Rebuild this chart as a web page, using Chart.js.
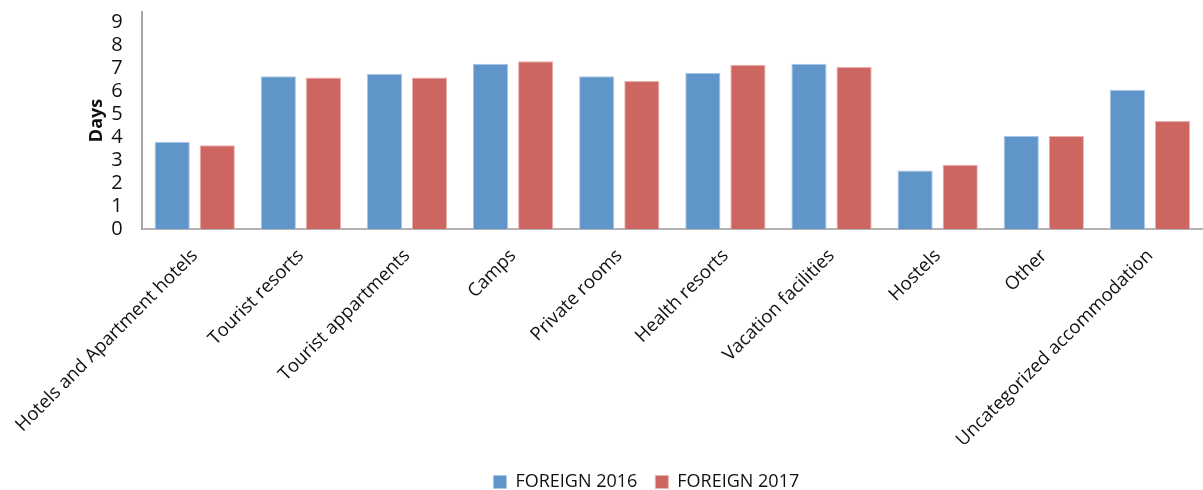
<!DOCTYPE html>
<html>
<head>
<meta charset="utf-8">
<script src="https://cdn.jsdelivr.net/npm/chart.js@4"></script>
<style>
  html, body { margin: 0; padding: 0; background: #fff; }
  #wrap { width: 1203px; height: 490px; }
</style>
</head>
<body>
<div id="wrap"><canvas id="stayChart"></canvas></div>
<script>
const categories = ['Hotels and Apartment hotels', 'Tourist resorts', 'Tourist appartments', 'Camps',
    'Private rooms', 'Health resorts', 'Vacation facilities', 'Hostels', 'Other', 'Uncategorized accommodation'];
const foreign2016 = [3.8, 6.65, 6.75, 7.2, 6.65, 6.8, 7.2, 2.55, 4.05, 6.05];
const foreign2017 = [3.65, 6.6, 6.6, 7.3, 6.45, 7.15, 7.05, 2.8, 4.05, 4.7];
const yTicks = [0, 1, 2, 3, 4, 5, 6, 7, 8, 9];

const font = "'Open Sans', 'Liberation Sans', sans-serif";

// nudge the legend a bit left of the plot-area centre, like the original
const legendShift = {
    id: 'legendShift',
    afterLayout(c) {
        c.legend.left -= 26;
        c.legend.right -= 26;
    }
};

const ctx = document.getElementById('stayChart').getContext('2d');
const chart = new Chart(ctx, {
    type: 'bar',
    data: {
        labels: categories,
        datasets: [{
            label: 'FOREIGN 2016',
            data: foreign2016,
            backgroundColor: '#6095c9',
            borderColor: '#a9c6e6',
            borderWidth: 1
        }, {
            label: 'FOREIGN 2017',
            data: foreign2017,
            backgroundColor: '#cd6560',
            borderColor: '#eab0ad',
            borderWidth: 1
        }]
    },
    plugins: [legendShift],
    options: {
        responsive: true,
        maintainAspectRatio: false,
        animation: false,
        layout: { padding: { top: 12, right: 0, left: 5, bottom: -11 } },
        datasets: {
            bar: { categoryPercentage: 0.85, barPercentage: 0.78 }
        },
        scales: {
            x: {
                grid: { display: false, drawTicks: false },
                border: { color: '#b3b3b3', width: 2 },
                afterFit: axis => { axis.height = 226; },
                ticks: {
                    color: '#111',
                    font: { family: font, size: 18.5 },
                    maxRotation: 45,
                    minRotation: 45,
                    autoSkip: false,
                    padding: 16
                }
            },
            y: {
                min: 0,
                max: 9.45,
                afterBuildTicks: axis => { axis.ticks = yTicks.map(v => ({ value: v })); },
                afterFit: axis => { axis.paddingTop = 0; },
                grid: { display: false, drawTicks: false },
                border: { color: '#a6a6a6', width: 2 },
                ticks: {
                    color: '#111',
                    font: { family: font, size: 20 },
                    padding: 19,
                    autoSkip: false
                },
                title: {
                    display: true,
                    text: 'Days',
                    color: '#111',
                    font: { family: font, size: 18, weight: 'bold' },
                    padding: { top: 0, bottom: -15 }
                }
            }
        },
        plugins: {
            legend: {
                position: 'bottom',
                fullSize: false,
                labels: {
                    color: '#111',
                    font: { family: font, size: 18 },
                    boxWidth: 13,
                    boxHeight: 13,
                    padding: 18,
                    useBorderRadius: false
                }
            },
            tooltip: { enabled: false }
        }
    }
});
</script>
</body>
</html>
